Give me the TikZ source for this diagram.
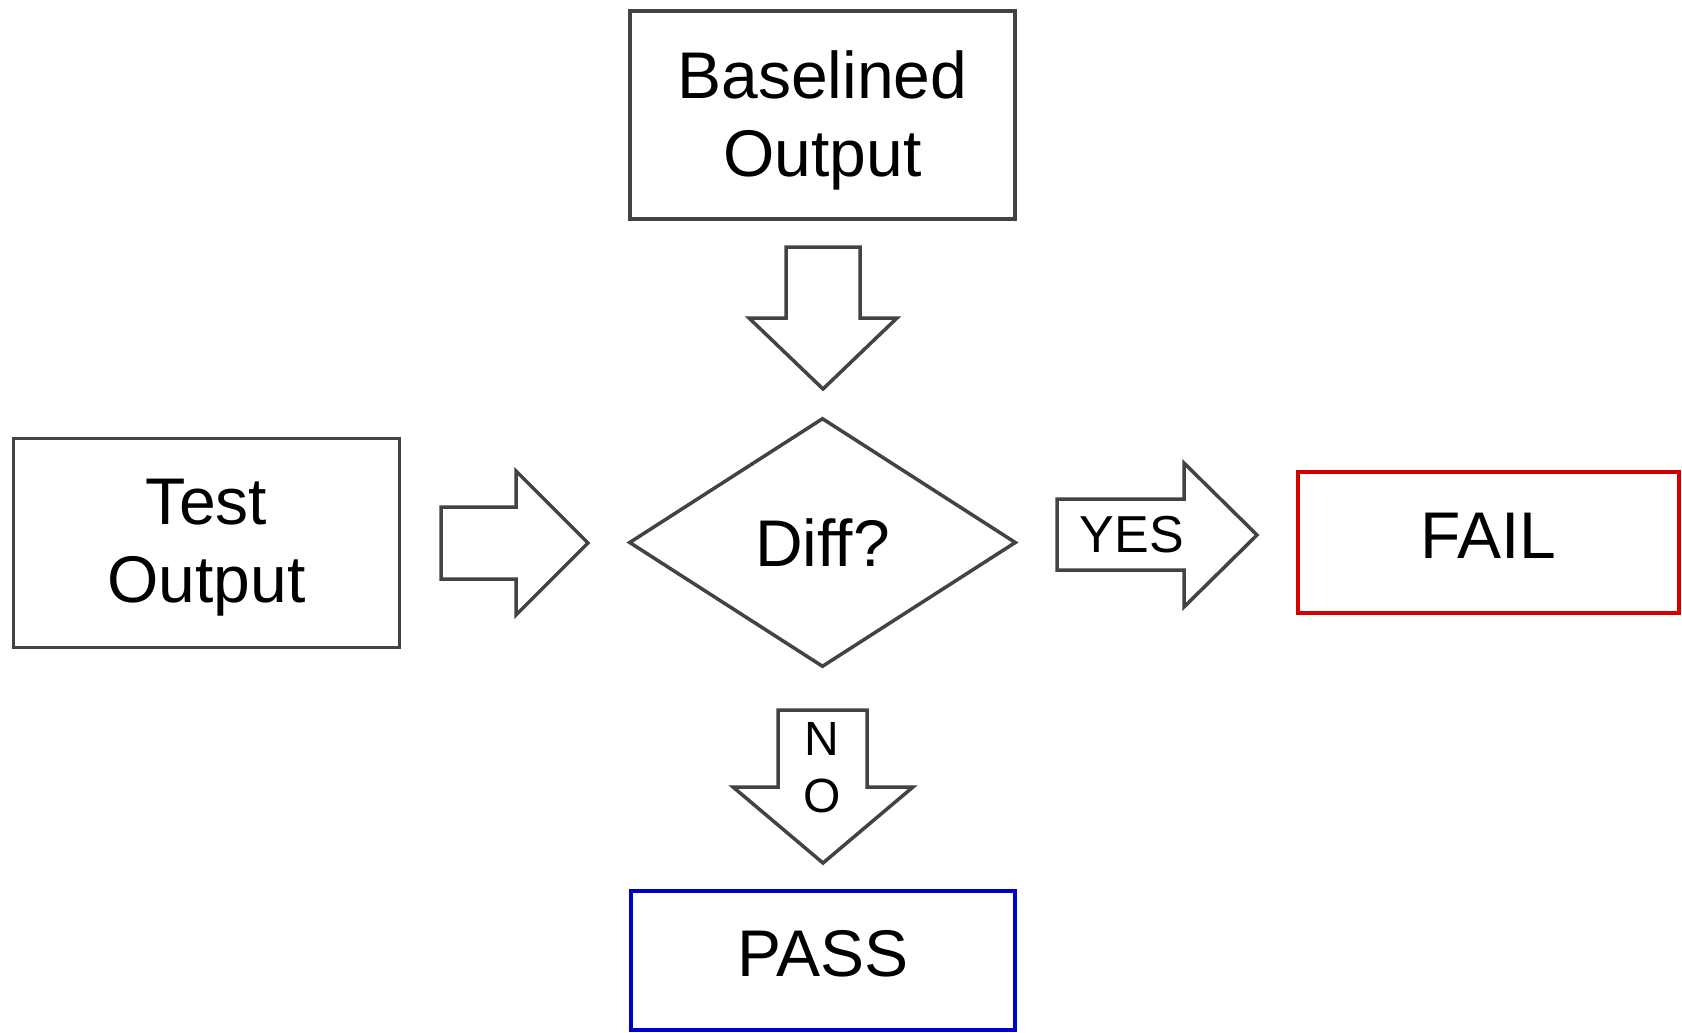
\documentclass[tikz,border=0pt]{standalone}
\usepackage{fontspec}
\setmainfont{Liberation Sans}
\usetikzlibrary{shapes.geometric}
\definecolor{linegray}{HTML}{434343}
\definecolor{failred}{HTML}{D40000}
\definecolor{passblue}{HTML}{0000CC}
\newcommand\bigtext{\fontsize{66}{78}\selectfont}
\newcommand\yestext{\fontsize{52}{60}\selectfont}
\newcommand\notext{\fontsize{48}{57}\selectfont}
\newcommand\lowline[1]{\raisebox{-5pt}[\height][\depth]{#1}}
\begin{document}
\begin{tikzpicture}[x=1pt,y=-1pt,
  box/.style={draw=linegray, line width=3.5pt, rectangle, inner sep=0pt, align=center, font=\bigtext},
  decision/.style={draw=linegray, line width=3.5pt, diamond, inner sep=0pt, font=\bigtext},
  blockarrow/.style={draw=linegray, line width=3.5pt, line join=miter, fill=white},
  arrowlabel/.style={inner sep=0pt}
]
\useasboundingbox[fill=white] (0,0) rectangle (1682,1033);

% nodes
\node[box, minimum width=385pt, minimum height=208pt] (base) at (822.5,115) {\lowline{Baselined}\\\lowline{Output}};
\node[box, minimum width=386pt, minimum height=209pt] (test) at (206.5,543) {\lowline{Test}\\\lowline{Output}};
\node[decision, minimum width=387pt, minimum height=249pt] (diff) at (822.5,542.5) {Diff?};
\node[box, draw=failred, minimum width=381pt, minimum height=141pt, text depth=14pt] (fail) at (1488.5,542.5) {FAIL};
\node[box, draw=passblue, minimum width=384pt, minimum height=139pt, text depth=14pt] (pass) at (823,960.5) {PASS};

% block arrows
% Baselined -> Diff
\draw[blockarrow] (786,247) -- (860,247) -- (860,318) -- (897,318) -- (823,389) -- (749,318) -- (786,318) -- cycle;
% Test -> Diff
\draw[blockarrow] (441,507) -- (516,507) -- (516,471) -- (588,543) -- (516,615) -- (516,579) -- (441,579) -- cycle;
% Diff -> FAIL (YES)
\draw[blockarrow] (1057,499) -- (1184,499) -- (1184,463) -- (1257,535) -- (1184,607) -- (1184,570) -- (1057,570) -- cycle;
% Diff -> PASS (NO)
\draw[blockarrow] (778,710) -- (867,710) -- (867,787) -- (913,787) -- (823,863) -- (733,787) -- (778,787) -- cycle;

% arrow labels
\node[arrowlabel, font=\yestext] (yes) at (1132,535) {YES};
\node[arrowlabel, font=\notext] (nolabN) at (822,738.5) {N};
\node[arrowlabel, font=\notext] (nolabO) at (822,796) {O};
\end{tikzpicture}
\end{document}
